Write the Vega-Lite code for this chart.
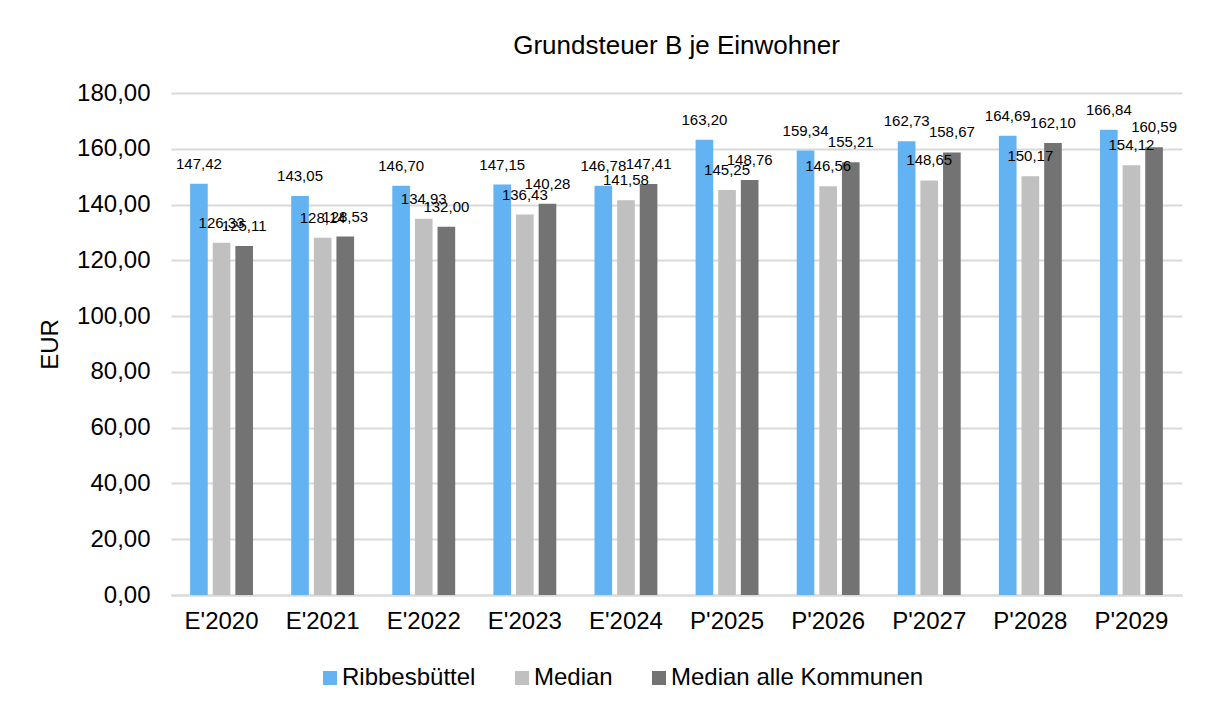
{
  "$schema": "https://vega.github.io/schema/vega-lite/v6.json",
  "autosize": {"type": "none"},
  "width": 1011,
  "height": 502,
  "padding": {"left": 171, "top": 93, "right": 28, "bottom": 107},
  "background": "white",
  "config": {
    "locale": {"number": {"decimal": ",", "thousands": ".", "grouping": [3], "currency": ["", " €"]}},
    "font": "Liberation Sans",
    "view": {"stroke": null}
  },
  "title": {"text": "Grundsteuer B je Einwohner", "fontSize": 26, "fontWeight": "normal", "color": "#000000", "offset": 22, "anchor": "middle", "font": "Liberation Sans"},
  "data": {
    "values": [
      {"jahr": "E'2020", "serie": "Ribbesbüttel", "wert": 147.42},
      {"jahr": "E'2020", "serie": "Median", "wert": 126.33},
      {"jahr": "E'2020", "serie": "Median alle Kommunen", "wert": 125.11},
      {"jahr": "E'2021", "serie": "Ribbesbüttel", "wert": 143.05},
      {"jahr": "E'2021", "serie": "Median", "wert": 128.14},
      {"jahr": "E'2021", "serie": "Median alle Kommunen", "wert": 128.53},
      {"jahr": "E'2022", "serie": "Ribbesbüttel", "wert": 146.70},
      {"jahr": "E'2022", "serie": "Median", "wert": 134.93},
      {"jahr": "E'2022", "serie": "Median alle Kommunen", "wert": 132.00},
      {"jahr": "E'2023", "serie": "Ribbesbüttel", "wert": 147.15},
      {"jahr": "E'2023", "serie": "Median", "wert": 136.43},
      {"jahr": "E'2023", "serie": "Median alle Kommunen", "wert": 140.28},
      {"jahr": "E'2024", "serie": "Ribbesbüttel", "wert": 146.78},
      {"jahr": "E'2024", "serie": "Median", "wert": 141.58},
      {"jahr": "E'2024", "serie": "Median alle Kommunen", "wert": 147.41},
      {"jahr": "P'2025", "serie": "Ribbesbüttel", "wert": 163.20},
      {"jahr": "P'2025", "serie": "Median", "wert": 145.25},
      {"jahr": "P'2025", "serie": "Median alle Kommunen", "wert": 148.76},
      {"jahr": "P'2026", "serie": "Ribbesbüttel", "wert": 159.34},
      {"jahr": "P'2026", "serie": "Median", "wert": 146.56},
      {"jahr": "P'2026", "serie": "Median alle Kommunen", "wert": 155.21},
      {"jahr": "P'2027", "serie": "Ribbesbüttel", "wert": 162.73},
      {"jahr": "P'2027", "serie": "Median", "wert": 148.65},
      {"jahr": "P'2027", "serie": "Median alle Kommunen", "wert": 158.67},
      {"jahr": "P'2028", "serie": "Ribbesbüttel", "wert": 164.69},
      {"jahr": "P'2028", "serie": "Median", "wert": 150.17},
      {"jahr": "P'2028", "serie": "Median alle Kommunen", "wert": 162.10},
      {"jahr": "P'2029", "serie": "Ribbesbüttel", "wert": 166.84},
      {"jahr": "P'2029", "serie": "Median", "wert": 154.12},
      {"jahr": "P'2029", "serie": "Median alle Kommunen", "wert": 160.59}
    ]
  },
  "encoding": {
    "x": {
      "field": "jahr", "type": "nominal", "sort": null,
      "scale": {"paddingInner": 0.378, "paddingOuter": 0.189},
      "axis": {"title": null, "labelAngle": 0, "labelFontSize": 24, "labelColor": "#000000", "labelPadding": 14, "ticks": false, "domainColor": "#d9d9d9", "domainWidth": 2, "labelFont": "Liberation Sans"}
    },
    "xOffset": {"field": "serie", "type": "nominal", "sort": ["Ribbesbüttel", "Median", "Median alle Kommunen"], "scale": {"paddingInner": 0.22, "paddingOuter": 0}},
    "y": {
      "field": "wert", "type": "quantitative",
      "scale": {"domain": [0, 180], "nice": false},
      "axis": {"title": "EUR", "titleFontSize": 24, "titleFontWeight": "normal", "titleColor": "#000000", "titlePadding": 14, "titleFont": "Liberation Sans", "values": [0, 20, 40, 60, 80, 100, 120, 140, 160, 180], "format": ".2f", "labelFontSize": 24, "labelColor": "#000000", "labelPadding": 21, "ticks": false, "domain": false, "gridColor": "#d9d9d9", "gridWidth": 2, "labelFont": "Liberation Sans"}
    }
  },
  "layer": [
    {
      "mark": {"type": "bar"},
      "encoding": {
        "color": {
          "field": "serie", "type": "nominal",
          "sort": ["Ribbesbüttel", "Median", "Median alle Kommunen"],
          "scale": {"domain": ["Ribbesbüttel", "Median", "Median alle Kommunen"], "range": ["#63b3f3", "#c0c0c0", "#737373"]},
          "legend": {"title": null, "orient": "none", "legendX": 147, "legendY": 573, "direction": "horizontal", "symbolType": "square", "symbolSize": 196, "symbolStrokeWidth": 0, "labelFontSize": 24, "labelColor": "#000000", "labelFont": "Liberation Sans", "labelLimit": 400, "columnPadding": 34, "labelOffset": 0}
        }
      }
    },
    {
      "mark": {"type": "text", "baseline": "middle", "dy": -20, "fontSize": 15, "color": "#000000", "font": "Liberation Sans"},
      "encoding": {
        "text": {"field": "wert", "type": "quantitative", "format": ".2f"}
      }
    }
  ]
}
